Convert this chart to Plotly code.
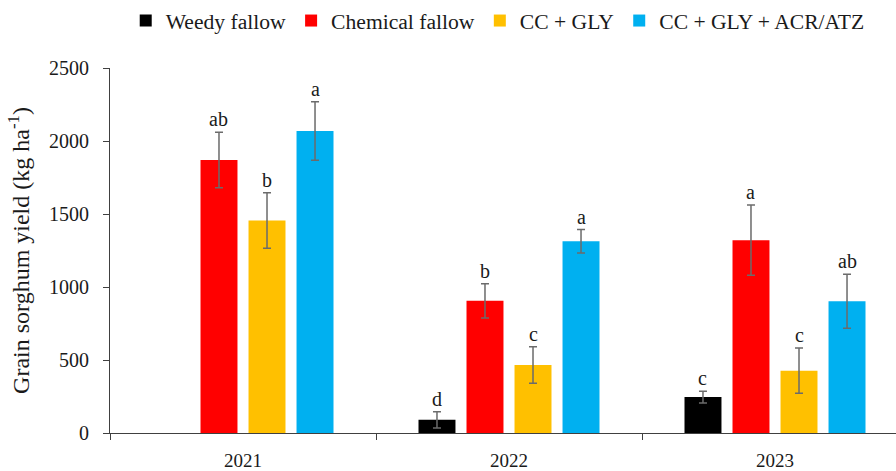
import plotly.graph_objects as go

years = ["2021", "2022", "2023"]
treatments = ["Weedy fallow", "Chemical fallow", "CC + GLY", "CC + GLY + ACR/ATZ"]
colors = ["#000000", "#FF0000", "#FFC000", "#00B0F0"]

weedy = [None, 90, 246]
chemical = [1870, 905, 1321]
cc_gly = [1455, 465, 427]
cc_gly_acr = [2069, 1313, 903]

weedy_err = [None, 55, 40]
chemical_err = [190, 118, 240]
cc_gly_err = [190, 125, 155]
cc_gly_acr_err = [200, 80, 185]

weedy_let = [None, "d", "c"]
chemical_let = ["ab", "b", "a"]
cc_gly_let = ["b", "c", "c"]
cc_gly_acr_let = ["a", "a", "ab"]

values = [weedy, chemical, cc_gly, cc_gly_acr]
errors = [weedy_err, chemical_err, cc_gly_err, cc_gly_acr_err]
letters = [weedy_let, chemical_let, cc_gly_let, cc_gly_acr_let]

FONT = "Liberation Serif, Times New Roman, serif"
BARGAP = 0.278
BARGROUPGAP = 0.23

fig = go.Figure()
for k, name in enumerate(treatments):
    fig.add_trace(go.Bar(
        x=years, y=values[k], name=name,
        marker=dict(color=colors[k], line=dict(width=0)),
        error_y=dict(type="data", array=[e if e is not None else 0 for e in errors[k]],
                     visible=True, color="#6b6b6b", thickness=1.5, width=4),
    ))

# significance letters above error bars
n = len(treatments)
slot = (1 - BARGAP) / n
annotations = []
for k in range(n):
    for i, yr in enumerate(years):
        v = values[k][i]
        if v is None:
            continue
        annotations.append(dict(
            x=i + (k - (n - 1) / 2) * slot, y=v + errors[k][i], xref="x", yref="y",
            text=letters[k][i], showarrow=False, yanchor="bottom", yshift=0,
            font=dict(family=FONT, size=20, color="#1a1a1a"),
        ))

fig.update_layout(
    width=896, height=471,
    margin=dict(l=110, r=0, t=68, b=33),
    barmode="group", bargap=BARGAP, bargroupgap=BARGROUPGAP,
    plot_bgcolor="white", paper_bgcolor="white",
    font=dict(family=FONT, color="#1a1a1a"),
    annotations=annotations,
    showlegend=True,
    legend=dict(orientation="h", x=0.02, xanchor="left", y=1.13, yanchor="middle",
                font=dict(family=FONT, size=21.6, color="#1a1a1a"),
                bgcolor="rgba(0,0,0,0)", traceorder="normal"),
)
fig.update_xaxes(
    type="category", range=[-0.5, 2.5 - 12 / 266],
    showline=True, linecolor="#404040", linewidth=1,
    ticks="outside", tickson="boundaries", ticklen=6, tickcolor="#404040",
    tickfont=dict(family=FONT, size=19, color="#1a1a1a"),
    ticklabelstandoff=10,
    showgrid=False, zeroline=False,
)
fig.update_yaxes(
    range=[0, 2500], dtick=500,
    showline=True, linecolor="#404040", linewidth=1,
    ticks="outside", ticklen=6, tickcolor="#404040",
    tickfont=dict(family=FONT, size=20, color="#1a1a1a"),
    ticklabelstandoff=10,
    showgrid=False, zeroline=False,
    title=dict(text="Grain sorghum yield (kg ha<sup>-1</sup>)", standoff=12,
               font=dict(family=FONT, size=24, color="#1a1a1a")),
    automargin=False,
)

fig.write_html("out.html", config={"displayModeBar": False},
               post_script="document.body.style.margin='0px';")
